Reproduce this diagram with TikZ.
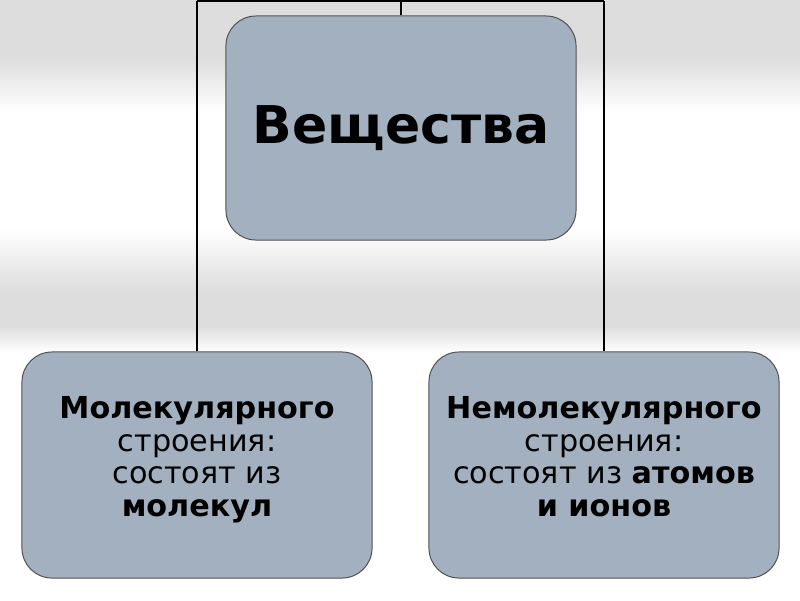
\documentclass[tikz,border=0pt]{standalone}
\usepackage{fontspec}
\setmainfont{DejaVu Sans}
\usetikzlibrary{positioning,calc}
\definecolor{boxfill}{RGB}{163,176,191}
\definecolor{boxline}{RGB}{80,80,80}
\definecolor{band}{RGB}{221,221,221}

\begin{document}
\begin{tikzpicture}[x=0.025cm,y=-0.025cm,
  every node/.style={inner sep=1mm},
  box/.style={draw=boxline,line width=.7pt,fill=boxfill,rounded corners=0.75cm,
    minimum width=8.75cm,align=center,text=black},
  small/.style={font=\fontsize{21.5}{23.2}\selectfont,text depth=12pt},
  link/.style={draw,black,line width=1.3pt}]

 % background
 \useasboundingbox (0,0) rectangle (800,600);
 \fill[white] (0,0) rectangle (800,600);
 \fill[band] (0,0) rectangle (800,58);
 \shade[top color=band,bottom color=white] (0,58) rectangle (800,112);
 \shade[top color=white,bottom color=band] (0,228) rectangle (800,292);
 \fill[band] (0,292) rectangle (800,326);
 \shade[top color=band,bottom color=white] (0,326) rectangle (800,352);

 \node[box,minimum height=5.6cm,font=\fontsize{37}{44}\selectfont\bfseries] (veshch)
   at (401,128) {Вещества};
 \node[box,small,minimum height=5.65cm] (mol) at (197,465)
   {\textbf{Молекулярного}\\ строения:\\ состоят из\\ \textbf{молекул}};
 \node[box,small,minimum height=5.65cm] (nemol) at (604,465)
   {\textbf{Немолекулярного}\\ строения:\\ состоят из \textbf{атомов}\\ \textbf{и ионов}};

 \coordinate (top) at (401,1);
 \coordinate (topL) at (197,1);
 \coordinate (topR) at (604,1);

\foreach \f/\t in {mol.north/topL,topL/topR,nemol.north/topR,veshch.north/top}
 \path[link] (\f) -- (\t);
\end{tikzpicture}
\end{document}
